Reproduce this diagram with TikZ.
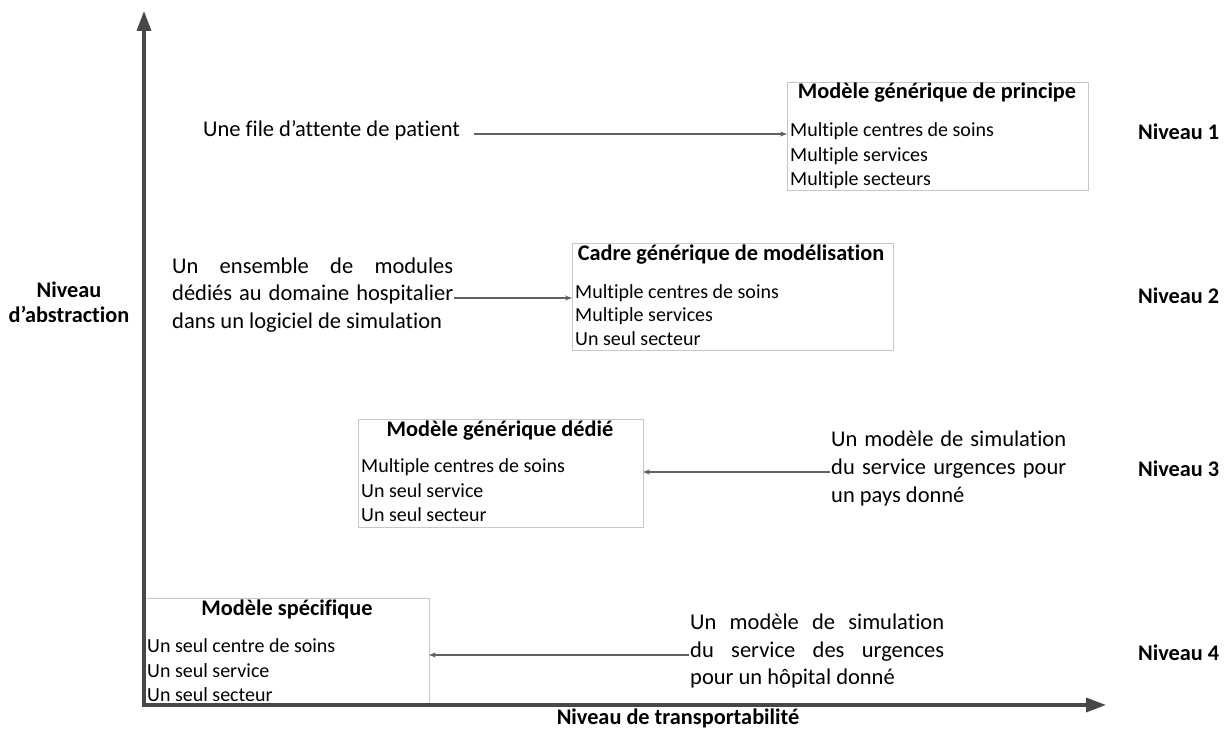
\documentclass[tikz,border=0pt]{standalone}
\usepackage{fontspec}
\setmainfont[Ligatures=NoCommon]{Carlito}
\usetikzlibrary{arrows.meta}
\begin{document}
\begin{tikzpicture}[x=1pt,y=-1pt,
  axisline/.style={line width=3.5pt,draw=black!72,-{Triangle[length=20pt,width=14pt]}},
  conn/.style={line width=1.1pt,draw=black!62,-{Stealth[length=7pt,width=5pt]}},
  boxframe/.style={draw=black!22,line width=0.9pt,inner sep=0pt,outer sep=0pt,anchor=north west},
  bigtxt/.style={inner sep=0pt,anchor=mid west,font=\fontsize{22.5}{27}\selectfont},
  body/.style={inner sep=0pt,anchor=mid west,font=\fontsize{20}{24}\selectfont},
  ttl/.style={inner sep=0pt,anchor=mid,font=\bfseries\fontsize{22.3}{26}\selectfont},
  lvl/.style={inner sep=0pt,anchor=mid west,font=\bfseries\fontsize{22.3}{26}\selectfont}
]
\useasboundingbox (0,0) rectangle (1229,735);
% axes
\coordinate (origin) at (144,705);
\coordinate (ytip) at (144,11);
\coordinate (xtip) at (1106,705);
% boxes
\node[boxframe,minimum width=301pt,minimum height=108pt] (box1) at (787,82) {};
\node[boxframe,minimum width=321pt,minimum height=107pt] (box2) at (572,243) {};
\node[boxframe,minimum width=285pt,minimum height=108pt] (box3) at (358,419) {};
\node[boxframe,minimum width=285pt,minimum height=107pt] (box4) at (144,598) {};
\draw[axisline] (origin) -- (ytip);
\draw[axisline] ([xshift=-1.75pt]origin) -- (xtip);
% box 1
\node[ttl] (t1) at (937,96) {Modèle générique de principe};
\node[body] (b1a) at (790,134) {Multiple centres de soins};
\node[body] (b1b) at (790,159) {Multiple services};
\node[body] (b1c) at (790,183) {Multiple secteurs};
% box 2
\node[ttl] (t2) at (731,258) {Cadre générique de modélisation};
\node[body] (b2a) at (575,296) {Multiple centres de soins};
\node[body] (b2b) at (575,319) {Multiple services};
\node[body] (b2c) at (575,343) {Un seul secteur};
% box 3
\node[ttl] (t3) at (500,434) {Modèle générique dédié};
\node[body] (b3a) at (361,470) {Multiple centres de soins};
\node[body] (b3b) at (361,495) {Un seul service};
\node[body] (b3c) at (361,519) {Un seul secteur};
% box 4
\node[ttl] (t4) at (287,613) {Modèle spécifique};
\node[body] (b4a) at (147,650) {Un seul centre de soins};
\node[body] (b4b) at (147,675) {Un seul service};
\node[body] (b4c) at (147,699) {Un seul secteur};
% left / right texts
\node[bigtxt] (s1) at (203,134) {Une file d’attente de patient};
\node[bigtxt] (s2a) at (172,271) {\makebox[281pt][s]{Un ensemble de modules}};
\node[bigtxt] (s2b) at (172,298) {\makebox[281pt][s]{dédiés au domaine hospitalier}};
\node[bigtxt] (s2c) at (172,326) {dans un logiciel de simulation};
\node[bigtxt] (s3a) at (831,444) {\makebox[235pt][s]{Un modèle de simulation}};
\node[bigtxt] (s3b) at (831,472) {\makebox[235pt][s]{du service urgences pour}};
\node[bigtxt] (s3c) at (831,500) {un pays donné};
\node[bigtxt] (s4a) at (690,627) {\makebox[254pt][s]{Un modèle de simulation}};
\node[bigtxt] (s4b) at (690,655) {\makebox[254pt][s]{du service des urgences}};
\node[bigtxt] (s4c) at (690,682) {pour un hôpital donné};
% connectors
\draw[conn] ([xshift=14pt]s1.mid east) -- (s1.mid east -| box1.west);
\draw[conn] ([xshift=1pt]s2b.mid east) -- (s2b.mid east -| box2.west);
\draw[conn] ([xshift=-1pt]s3b.mid west) -- (s3b.mid west -| box3.east);
\draw[conn] ([xshift=-1pt]s4b.mid west) -- (s4b.mid west -| box4.east);
% level labels
\node[lvl] (n1) at (1138,137) {Niveau 1};
\node[lvl] (n2) at (1138,301) {Niveau 2};
\node[lvl] (n3) at (1138,474) {Niveau 3};
\node[lvl] (n4) at (1138,658) {Niveau 4};
% axis labels
\node[ttl,anchor=center,align=center] (ya) at (69,302) {Niveau\\[-1pt]d’abstraction};
\node[ttl] (xa) at (678,722) {Niveau de transportabilité};
\end{tikzpicture}
\end{document}
